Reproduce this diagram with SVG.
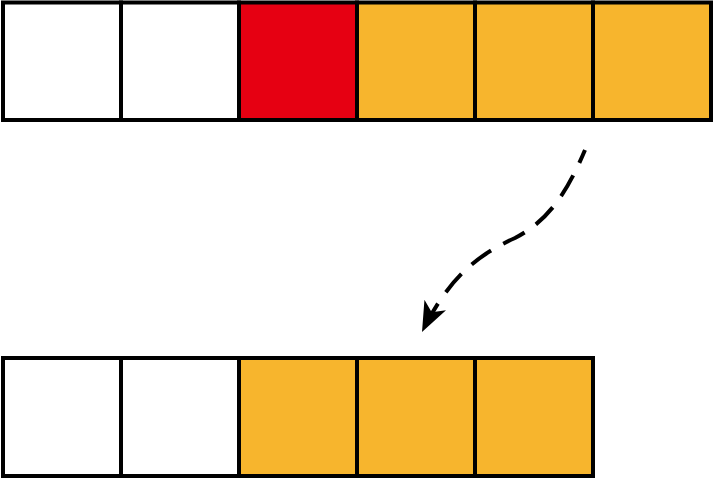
<svg xmlns="http://www.w3.org/2000/svg" width="714" height="479" viewBox="0 0 714 479">
<style>
.cell{stroke:#000;stroke-width:4}
.w{fill:#fff}.r{fill:#E60012}.o{fill:#F7B52D}
.conn{fill:none;stroke:#000;stroke-width:4;stroke-dasharray:24 14;stroke-dashoffset:10}
</style>
<defs>
<marker id="ah" markerUnits="userSpaceOnUse" viewBox="0 0 30 24" refX="30" refY="12" markerWidth="30" markerHeight="24" orient="auto">
<path d="M0,0 L30,12 L0,24 L8,12 Z" fill="#000"/>
</marker>
</defs>
<g id="top-row">
<g id="t1"><rect class="cell w" x="3" y="2.5" width="118" height="117.5"/></g>
<g id="t2"><rect class="cell w" x="121" y="2.5" width="118" height="117.5"/></g>
<g id="t3"><rect class="cell r" x="239" y="2.5" width="118" height="117.5"/></g>
<g id="t4"><rect class="cell o" x="357" y="2.5" width="118" height="117.5"/></g>
<g id="t5"><rect class="cell o" x="475" y="2.5" width="118" height="117.5"/></g>
<g id="t6"><rect class="cell o" x="593" y="2.5" width="118" height="117.5"/></g>
</g>
<g id="bottom-row">
<g id="b1"><rect class="cell w" x="3" y="358" width="118" height="118"/></g>
<g id="b2"><rect class="cell w" x="121" y="358" width="118" height="118"/></g>
<g id="b3"><rect class="cell o" x="239" y="358" width="118" height="118"/></g>
<g id="b4"><rect class="cell o" x="357" y="358" width="118" height="118"/></g>
<g id="b5"><rect class="cell o" x="475" y="358" width="118" height="118"/></g>
</g>
<g id="connectors">
<path class="conn" d="M585,150 C568,190 550,220 515,238 C480,254 450,275 422,332" marker-end="url(#ah)"/>
</g>
</svg>
